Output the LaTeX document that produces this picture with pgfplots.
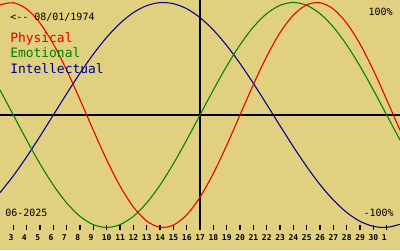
\documentclass[border=0pt]{standalone}
\usepackage{fontspec}
\setmonofont{DejaVu Sans Mono}
\usepackage{pgfplots}
\pgfplotsset{compat=1.18}
\definecolor{bg}{RGB}{224,208,128}
\definecolor{pred}{RGB}{228,0,0}
\definecolor{egreen}{RGB}{0,128,0}
\definecolor{iblue}{RGB}{0,0,144}
\pgfplotstableread{
d p e i
2 0.9791 0.2225 -0.6901
3 0.9977 0 -0.5406
4 0.9423 -0.2225 -0.3717
5 0.8170 -0.4339 -0.1893
6 0.6311 -0.6235 0
7 0.3984 -0.7818 0.1893
8 0.1362 -0.9010 0.3717
9 -0.1362 -0.9749 0.5406
10 -0.3984 -1 0.6901
11 -0.6311 -0.9749 0.8146
12 -0.8170 -0.9010 0.9096
13 -0.9423 -0.7818 0.9718
14 -0.9977 -0.6235 0.9989
15 -0.9791 -0.4339 0.9898
16 -0.8879 -0.2225 0.9450
17 -0.7308 0 0.8660
18 -0.5196 0.2225 0.7557
19 -0.2698 0.4339 0.6182
20 0 0.6235 0.4582
21 0.2698 0.7818 0.2817
22 0.5196 0.9010 0.0951
23 0.7308 0.9749 -0.0951
24 0.8879 1 -0.2817
25 0.9791 0.9749 -0.4582
26 0.9977 0.9010 -0.6182
27 0.9423 0.7818 -0.7557
28 0.8170 0.6235 -0.8660
29 0.6311 0.4339 -0.9450
30 0.3984 0.2225 -0.9898
31 0.1362 0 -0.9989
32 -0.1362 -0.2225 -0.9718
}\bio
\begin{document}
\begin{tikzpicture}
\fill[bg] (0pt,-15pt) rectangle (300pt,172.5pt);
\begin{axis}[
  at={(0pt,0pt)}, anchor=south west,
  scale only axis, width=300pt, height=172.5pt,
  xmin=2, xmax=32, ymin=-1.0222, ymax=1.0222,
  axis line style={draw=none},
  ytick=\empty, minor tick num=0,
  xtick={3,4,5,6,7,8,9,10,11,12,13,14,15,16,17,18,19,20,21,22,23,24,25,26,27,28,29,30,31},
  xticklabels={3,4,5,6,7,8,9,10,11,12,13,14,15,16,17,18,19,20,21,22,23,24,25,26,27,28,29,30,1},
  xtick pos=lower, tick align=inside, major tick length=3.9pt,
  xtick style={black, line width=0.8pt},
  xticklabel style={anchor=north west, inner sep=0pt, xshift=-3.75pt, yshift=-3.2pt,
    font=\ttfamily\bfseries\fontsize{6}{6}\selectfont},
]
\addplot[black, line width=0.9pt] coordinates {(2,0) (32,0)};
\addplot[black, line width=0.9pt] coordinates {(17,-1.0222) (17,1.0222)};
\addplot[iblue, line width=0.8pt, smooth] table[x=d, y=i] {\bio};
\addplot[egreen, line width=0.8pt, smooth] table[x=d, y=e] {\bio};
\addplot[pred, line width=0.8pt, smooth] table[x=d, y=p] {\bio};
\end{axis}
\node[anchor=base west, inner sep=0pt, font=\ttfamily\fontsize{7.5}{8}\selectfont] at (7.5pt,156.75pt) {<-{}- 08/01/1974};
\node[anchor=base west, inner sep=0pt, text=pred, font=\ttfamily\fontsize{9.7}{10}\selectfont] at (7.5pt,140.5pt) {Physical};
\node[anchor=base west, inner sep=0pt, text=egreen, font=\ttfamily\fontsize{9.7}{10}\selectfont] at (7.5pt,129.2pt) {Emotional};
\node[anchor=base west, inner sep=0pt, text=iblue, font=\ttfamily\fontsize{9.7}{10}\selectfont] at (7.5pt,117.5pt) {Intellectual};
\node[anchor=base east, inner sep=0pt, font=\ttfamily\fontsize{7.5}{8}\selectfont] at (294.75pt,160.5pt) {100\%};
\node[anchor=base east, inner sep=0pt, font=\ttfamily\fontsize{7.5}{8}\selectfont] at (295.5pt,10pt) {-100\%};
\node[anchor=base west, inner sep=0pt, font=\ttfamily\fontsize{7.5}{8}\selectfont] at (3.75pt,10pt) {06-2025};
\pgfresetboundingbox
\path[use as bounding box] (0pt,-15pt) rectangle (300pt,172.5pt);
\end{tikzpicture}
\end{document}
